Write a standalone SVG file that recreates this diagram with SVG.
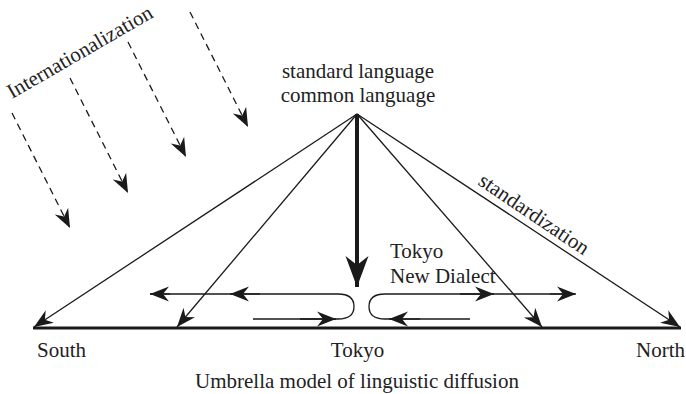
<svg xmlns="http://www.w3.org/2000/svg" width="686" height="394" viewBox="0 0 686 394">
<defs>
<marker id="ah" markerUnits="userSpaceOnUse" markerWidth="22" markerHeight="18" viewBox="-20 -9 21 18" refX="0" refY="0" orient="auto">
<path d="M0,0 L-19,-7.5 L-13,0 L-19,7.5 Z" fill="#1a1a1a"/>
</marker>
<marker id="ahd" markerUnits="userSpaceOnUse" markerWidth="22" markerHeight="18" viewBox="-20 -9 21 18" refX="0" refY="0" orient="auto">
<path d="M0,0 L-19,-7.5 L-13,0 L-19,7.5 Z" fill="#1a1a1a"/>
</marker>
<marker id="ahbig" markerUnits="userSpaceOnUse" markerWidth="34" markerHeight="26" viewBox="-31 -13 32 26" refX="0" refY="0" orient="auto">
<path d="M0,0 L-31,-11.5 L-22,0 L-31,11.5 Z" fill="#1a1a1a"/>
</marker>
</defs>
<style>
text{font-family:"Liberation Serif","Times New Roman",serif;font-size:21px;fill:#222}
.thin{stroke:#1a1a1a;stroke-width:1.3;fill:none}
.dash{stroke:#1a1a1a;stroke-width:1.3;fill:none;stroke-dasharray:7,5}
</style>
<g id="connectors">
<line x1="33" y1="328" x2="681" y2="328" stroke="#1a1a1a" stroke-width="3"/>
<line class="thin" x1="357" y1="114" x2="34" y2="327" marker-end="url(#ah)"/>
<line class="thin" x1="357" y1="114" x2="177" y2="327" marker-end="url(#ah)"/>
<line class="thin" x1="357" y1="114" x2="542" y2="327" marker-end="url(#ah)"/>
<line class="thin" x1="357" y1="114" x2="680" y2="327" marker-end="url(#ah)"/>
<line x1="357" y1="114" x2="357" y2="287" stroke="#1a1a1a" stroke-width="4" marker-end="url(#ahbig)"/>
<line class="dash" x1="12" y1="113" x2="70" y2="228" marker-end="url(#ahd)"/>
<line class="dash" x1="70" y1="78" x2="128" y2="193" marker-end="url(#ahd)"/>
<line class="dash" x1="128" y1="42" x2="186" y2="157" marker-end="url(#ahd)"/>
<line class="dash" x1="190" y1="12" x2="248" y2="127" marker-end="url(#ahd)"/>
<path class="thin" d="M253,319 H338 Q354,319 354,306.5 Q354,294 338,294 H150"/>
<line class="thin" x1="300" y1="319" x2="336" y2="319" marker-end="url(#ah)"/>
<line class="thin" x1="260" y1="294" x2="230" y2="294" marker-end="url(#ah)"/>
<line class="thin" x1="170" y1="294" x2="150" y2="294" marker-end="url(#ah)"/>
<path class="thin" d="M470,319 H385 Q369,319 369,306.5 Q369,294 385,294 H575"/>
<line class="thin" x1="420" y1="319" x2="389" y2="319" marker-end="url(#ah)"/>
<line class="thin" x1="460" y1="294" x2="494" y2="294" marker-end="url(#ah)"/>
<line class="thin" x1="550" y1="294" x2="576" y2="294" marker-end="url(#ah)"/>
</g>
<g id="apex">
<text x="358" y="78" text-anchor="middle">standard language</text>
<text x="358" y="102" text-anchor="middle">common language</text>
</g>
<g id="internationalization">
<text x="12" y="99" transform="rotate(-30 12 99)">Internationalization</text>
</g>
<g id="standardization">
<text x="477" y="184" transform="rotate(34 477 184)">standardization</text>
</g>
<g id="tokyo-new-dialect">
<text x="390" y="258">Tokyo</text>
<text x="390" y="283">New Dialect</text>
</g>
<g id="south"><text x="37" y="357">South</text></g>
<g id="tokyo"><text x="357.5" y="357" text-anchor="middle">Tokyo</text></g>
<g id="north"><text x="685" y="357" text-anchor="end">North</text></g>
<g id="caption"><text x="357" y="388" text-anchor="middle">Umbrella model of linguistic diffusion</text></g>
</svg>
